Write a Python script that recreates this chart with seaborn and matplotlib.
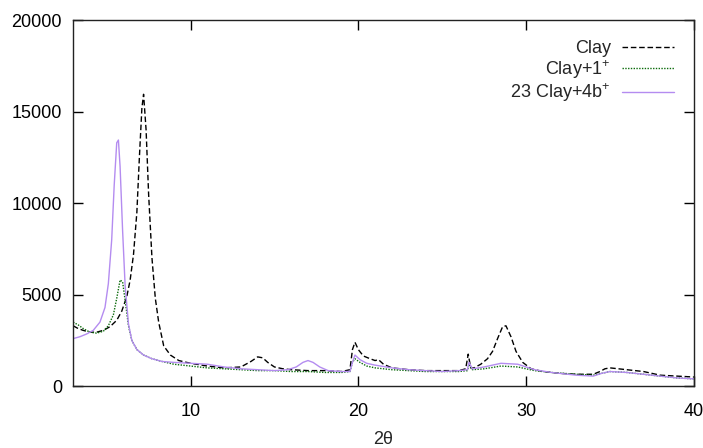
import numpy as np
import pandas as pd
import seaborn as sns
import matplotlib
matplotlib.use('Agg')
import matplotlib.pyplot as plt

#///// Data
clay_x = [3.0, 3.3, 3.6, 4.0, 4.4, 4.8, 5.2, 5.6, 5.9, 6.2, 6.4, 6.6, 6.8, 6.95, 7.1, 7.2, 7.35, 7.5, 7.7, 7.9,
          8.1, 8.4, 8.8, 9.3, 10, 11, 12, 13, 13.6, 14.0, 14.3, 14.6, 15.0, 15.5, 16, 17, 18, 19, 19.5, 19.65,
          19.8, 20.0, 20.3, 20.7, 21.0, 21.2, 21.5, 22, 23, 24, 25, 26, 26.4, 26.55, 26.7, 26.9, 27.3, 27.7, 28.0,
          28.3, 28.6, 28.8, 29.1, 29.4, 29.8, 30.3, 31, 32, 33, 34, 34.4, 34.7, 35.0, 35.5, 36, 36.5, 37, 37.5,
          38, 39, 40]
clay_y = [3300, 3150, 3050, 2950, 2950, 3050, 3250, 3600, 4100, 4900, 5800, 7200, 9500, 12500, 15200, 15950,
          14000, 10500, 7000, 4800, 3500, 2200, 1700, 1400, 1250, 1100, 1000, 1050, 1350, 1600, 1550, 1300, 1050,
          950, 900, 850, 850, 800, 900, 2000, 2400, 2000, 1650, 1500, 1400, 1450, 1200, 1000, 900, 850, 850, 850,
          950, 1750, 1000, 1000, 1200, 1500, 1900, 2600, 3250, 3300, 2700, 1900, 1300, 950, 800, 700, 650, 650,
          800, 950, 1000, 950, 900, 850, 800, 700, 600, 550, 500]

clay1_x = [3.0, 3.3, 3.6, 4.0, 4.4, 4.8, 5.1, 5.4, 5.6, 5.8, 5.95, 6.1, 6.3, 6.5, 6.8, 7.2, 7.7, 8.3, 9, 10, 11,
           12, 13, 14, 15, 16, 17, 18, 19, 19.5, 19.65, 19.8, 20.1, 20.5, 21, 22, 23, 24, 25, 26, 26.5, 26.6,
           26.8, 27.5, 28.5, 29.5, 30.5, 31.5, 33, 34, 34.5, 35, 36, 37, 38, 39, 40]
clay1_y = [3500, 3350, 3150, 2950, 2900, 3000, 3300, 3900, 4800, 5800, 5700, 4700, 3300, 2500, 2000, 1700, 1500,
           1350, 1200, 1100, 1000, 950, 900, 850, 850, 800, 800, 750, 750, 800, 1300, 1500, 1300, 1100, 1000, 900,
           850, 800, 800, 800, 850, 1200, 900, 950, 1100, 1050, 850, 750, 650, 600, 700, 800, 750, 650, 550, 450,
           400]

clay4b_x = [3.0, 3.4, 3.8, 4.2, 4.6, 4.9, 5.1, 5.3, 5.45, 5.6, 5.7, 5.8, 5.95, 6.1, 6.3, 6.5, 6.8, 7.2, 7.7, 8.3,
            9, 10, 11, 12, 13, 14, 15, 15.8, 16.3, 16.7, 17.0, 17.3, 17.7, 18.2, 19, 19.5, 19.65, 19.8, 20.1, 20.5,
            21, 22, 23, 24, 25, 26, 26.5, 26.6, 26.8, 27.5, 28.5, 29.5, 30.5, 31.5, 33, 34, 34.5, 35, 36, 37, 38,
            39, 40]
clay4b_y = [2600, 2700, 2850, 3050, 3500, 4300, 5600, 8000, 11000, 13300, 13450, 12000, 8500, 5500, 3400, 2500,
            2000, 1700, 1500, 1350, 1300, 1250, 1200, 1050, 950, 900, 850, 900, 1050, 1300, 1400, 1300, 1050, 850,
            800, 800, 1300, 1700, 1450, 1250, 1150, 1000, 900, 850, 800, 850, 900, 1300, 950, 1050, 1250, 1200, 900,
            750, 600, 550, 700, 800, 750, 650, 550, 450, 400]

labels = ['Clay', 'Clay+1$^{+}$', '23 Clay+4b$^{+}$']
colors = ['black', '#0b6b0b', '#b48cf0']
x_ticks = [10, 20, 30, 40]
y_ticks = [0, 5000, 10000, 15000, 20000]

#///// Style
sns.set_theme(style='ticks')
plt.rcParams['font.family'] = ['Liberation Sans', 'DejaVu Sans']
plt.rcParams['mathtext.fontset'] = 'custom'
plt.rcParams['mathtext.rm'] = 'Liberation Sans'
plt.rcParams['mathtext.it'] = 'Liberation Sans'

fig, ax = plt.subplots(figsize=(7.03, 4.48), dpi=100)
fig.subplots_adjust(left=0.104, right=0.987, top=0.955, bottom=0.138)

# Draw curves
sns.lineplot(x=clay_x, y=clay_y, ax=ax, color=colors[0], linestyle=(0, (4, 2)), linewidth=1.0, label=labels[0])
sns.lineplot(x=clay1_x, y=clay1_y, ax=ax, color=colors[1], linestyle=(0, (1, 1)), linewidth=1.0, label=labels[1])
sns.lineplot(x=clay4b_x, y=clay4b_y, ax=ax, color=colors[2], linestyle='-', linewidth=1.0, label=labels[2])

# Axes
ax.set_xlim(3, 40)
ax.set_ylim(0, 20000)
ax.set_xticks(x_ticks)
ax.set_yticks(y_ticks)
ax.tick_params(axis='both', direction='in', length=7, width=1, labelsize=13, colors='black',
               top=True, right=True)
ax.tick_params(axis='x', pad=12)
ax.tick_params(axis='y', pad=8)
for s in ['left', 'top', 'right', 'bottom']:
    ax.spines[s].set_linewidth(1)
    ax.spines[s].set_color('#222222')
ax.set_xlabel('2θ', fontsize=13, labelpad=8)
ax.set_ylabel('')

# Legend, gnuplot style: text left of sample, right aligned
leg = ax.legend(loc='upper right', markerfirst=False, frameon=False, fontsize=13,
                handlelength=2.9, labelspacing=0.05, handletextpad=0.6, borderaxespad=0.7)

plt.savefig('out.png', dpi=100)
